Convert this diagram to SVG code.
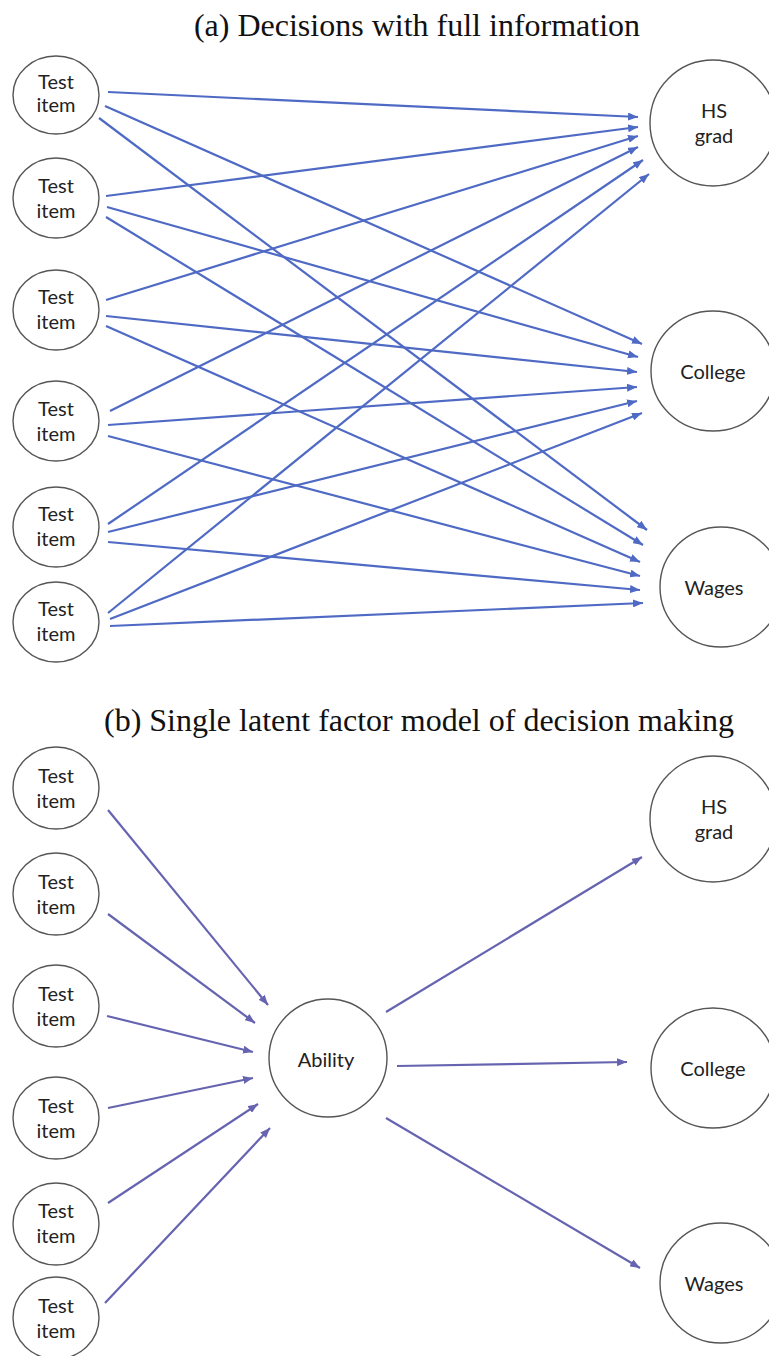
<svg xmlns="http://www.w3.org/2000/svg" width="769" height="1356" viewBox="0 0 769 1356">
<defs>
<style>
.title{font-family:"Liberation Serif","Times New Roman",serif;font-size:32px;fill:#111;text-anchor:middle}
.node ellipse{fill:#fff;stroke:#555;stroke-width:1.4}
.node text{font-family:Lato,"Open Sans",sans-serif;font-size:20px;fill:#222;text-anchor:middle}
.ea line{stroke:#4f6ac4;stroke-width:2.2;marker-end:url(#ha)}
.eb line{stroke:#6664b0;stroke-width:2.2;marker-end:url(#hb)}
</style>
<marker id="ha" viewBox="0 0 10 8" refX="10" refY="4" markerWidth="10" markerHeight="8" markerUnits="userSpaceOnUse" orient="auto"><path d="M0,0L10,4L0,8z" fill="#4f6ac4"/></marker>
<marker id="hb" viewBox="0 0 10 8" refX="10" refY="4" markerWidth="10" markerHeight="8" markerUnits="userSpaceOnUse" orient="auto"><path d="M0,0L10,4L0,8z" fill="#6664b0"/></marker>
</defs>
<rect width="769" height="1356" fill="#fff"/>
<text class="title" x="417" y="36">(a) Decisions with full information</text>
<text class="title" x="419" y="731">(b) Single latent factor model of decision making</text>

<g id="connectors-a" class="ea">
<line x1="108" y1="92" x2="638" y2="117"/>
<line x1="105" y1="106" x2="642" y2="344"/>
<line x1="99" y1="118" x2="647" y2="530"/>
<line x1="106" y1="196" x2="638" y2="127"/>
<line x1="107" y1="207" x2="638" y2="357"/>
<line x1="106" y1="217" x2="643" y2="545"/>
<line x1="106" y1="300" x2="638" y2="136"/>
<line x1="106" y1="316" x2="637" y2="372"/>
<line x1="106" y1="326" x2="640" y2="562"/>
<line x1="110" y1="411" x2="638" y2="147"/>
<line x1="108" y1="425" x2="637" y2="387"/>
<line x1="108" y1="436" x2="640" y2="576"/>
<line x1="108" y1="524" x2="643" y2="160"/>
<line x1="108" y1="532" x2="637" y2="401"/>
<line x1="108" y1="542" x2="640" y2="590"/>
<line x1="108" y1="613" x2="649" y2="174"/>
<line x1="110" y1="619" x2="642" y2="413"/>
<line x1="110" y1="626" x2="643" y2="603"/>
</g>

<g id="connectors-b" class="eb">
<line x1="108" y1="810" x2="268" y2="1005"/>
<line x1="108" y1="914" x2="255" y2="1023"/>
<line x1="107" y1="1016" x2="253" y2="1052"/>
<line x1="108" y1="1108" x2="253" y2="1078"/>
<line x1="108" y1="1203" x2="258" y2="1104"/>
<line x1="105" y1="1303" x2="270" y2="1128"/>
<line x1="386" y1="1012" x2="642" y2="857"/>
<line x1="397" y1="1066" x2="627" y2="1062"/>
<line x1="386" y1="1118" x2="640" y2="1268"/>
</g>

<g id="a-item1" class="node"><ellipse cx="56" cy="95" rx="43" ry="39"/><text x="56" y="89">Test</text><text x="56" y="112">item</text></g>
<g id="a-item2" class="node"><ellipse cx="56" cy="198" rx="43" ry="40"/><text x="56" y="193">Test</text><text x="56" y="218">item</text></g>
<g id="a-item3" class="node"><ellipse cx="56" cy="310" rx="43" ry="40"/><text x="56" y="304">Test</text><text x="56" y="329">item</text></g>
<g id="a-item4" class="node"><ellipse cx="56" cy="421" rx="43" ry="40"/><text x="56" y="416">Test</text><text x="56" y="441">item</text></g>
<g id="a-item5" class="node"><ellipse cx="56" cy="527" rx="43" ry="40"/><text x="56" y="521">Test</text><text x="56" y="546">item</text></g>
<g id="a-item6" class="node"><ellipse cx="56" cy="622" rx="43" ry="40"/><text x="56" y="616">Test</text><text x="56" y="641">item</text></g>
<g id="a-hsgrad" class="node"><ellipse cx="713" cy="123" rx="63" ry="63"/><text x="714" y="118">HS</text><text x="714" y="143">grad</text></g>
<g id="a-college" class="node"><ellipse cx="713" cy="371" rx="62" ry="60"/><text x="713" y="379">College</text></g>
<g id="a-wages" class="node"><ellipse cx="721" cy="587" rx="61" ry="60"/><text x="714" y="595">Wages</text></g>

<g id="b-item1" class="node"><ellipse cx="56" cy="788" rx="43" ry="41"/><text x="56" y="783">Test</text><text x="56" y="808">item</text></g>
<g id="b-item2" class="node"><ellipse cx="56" cy="894" rx="43" ry="41"/><text x="56" y="889">Test</text><text x="56" y="914">item</text></g>
<g id="b-item3" class="node"><ellipse cx="56" cy="1006" rx="43" ry="41"/><text x="56" y="1001">Test</text><text x="56" y="1026">item</text></g>
<g id="b-item4" class="node"><ellipse cx="56" cy="1118" rx="43" ry="41"/><text x="56" y="1113">Test</text><text x="56" y="1138">item</text></g>
<g id="b-item5" class="node"><ellipse cx="56" cy="1224" rx="43" ry="41"/><text x="56" y="1218">Test</text><text x="56" y="1243">item</text></g>
<g id="b-item6" class="node"><ellipse cx="56" cy="1318" rx="43" ry="41"/><text x="56" y="1313">Test</text><text x="56" y="1338">item</text></g>
<g id="b-ability" class="node"><ellipse cx="328" cy="1058" rx="59" ry="59"/><text x="326" y="1067">Ability</text></g>
<g id="b-hsgrad" class="node"><ellipse cx="713" cy="819" rx="63" ry="63"/><text x="714" y="814">HS</text><text x="714" y="839">grad</text></g>
<g id="b-college" class="node"><ellipse cx="713" cy="1068" rx="62" ry="60"/><text x="713" y="1076">College</text></g>
<g id="b-wages" class="node"><ellipse cx="721" cy="1283" rx="61" ry="60"/><text x="714" y="1291">Wages</text></g>
</svg>
